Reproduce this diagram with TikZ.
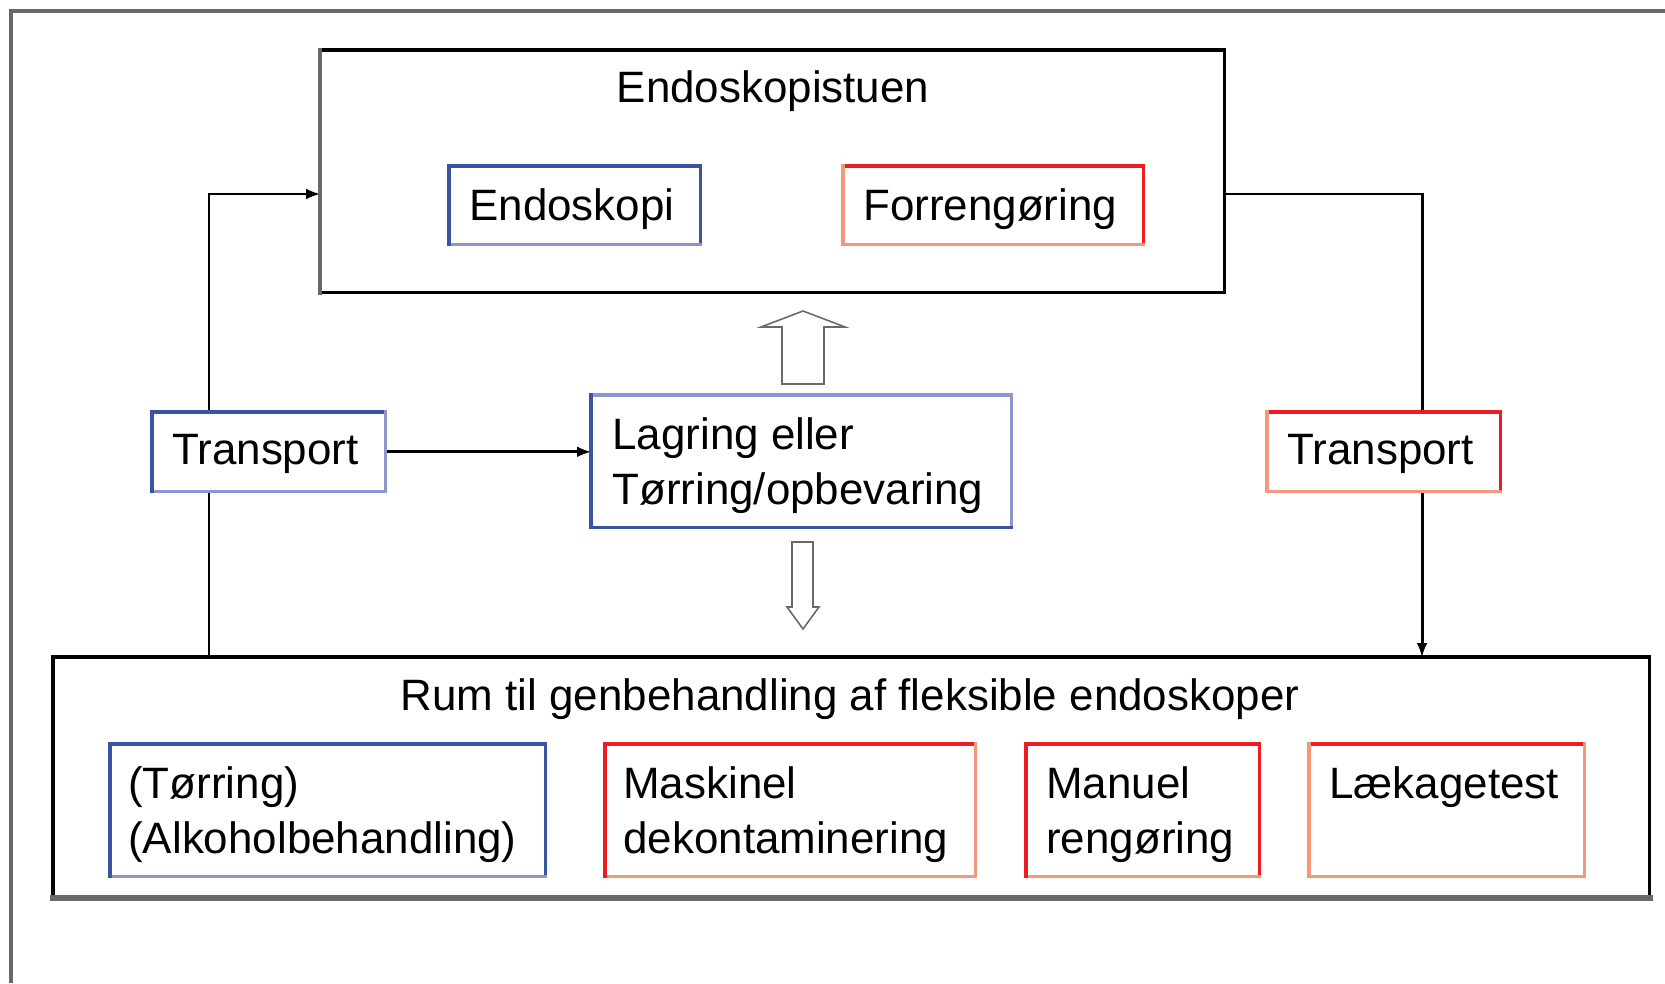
\documentclass[tikz,border=0pt]{standalone}
\usepackage{fontspec}
\setmainfont{Liberation Sans}
\usetikzlibrary{backgrounds}
\definecolor{dblue}{HTML}{3A54A4}
\definecolor{lblue}{HTML}{8E95C9}
\definecolor{dred}{HTML}{ED1C24}
\definecolor{salmon}{HTML}{F4977B}
\definecolor{edgegray}{HTML}{696969}
\def\u{0.02cm}
\tikzset{
  box/.style={rectangle,inner sep=0pt,anchor=north west,fill=white},
  boxtxt/.style={anchor=north west,align=left,inner sep=0pt},
  side/.style={line width=2pt,line cap=rect},
  blk/.style={line width=2pt,line cap=rect},
  conn/.style={line width=1.7pt},
  frame/.style={line width=1.8pt,edgegray},
  hollow/.style={line width=0.9pt,edgegray,fill=white,line join=miter}
}
% four sides of a box: name, top, right, bottom, left
\newcommand\sides[5]{%
  \draw[side,#2](#1.north west)--(#1.north east);
  \draw[side,#3](#1.north east)--(#1.south east);
  \draw[side,#4](#1.south west)--(#1.south east);
  \draw[side,#5](#1.north west)--(#1.south west);
}
\begin{document}
\begin{tikzpicture}[x=0.02cm,y=-0.02cm,font=\fontsize{25}{31.3}\selectfont]
\useasboundingbox(0,0)rectangle(1665,983);
\draw[frame](11,983)--(11,11)--(1665,11);
% rooms
\node[box,minimum width=904*\u,minimum height=242*\u](stue)at(320,50){};
\draw[blk](stue.south west)--(stue.south east)--(stue.north east)--(stue.north west);
\draw[blk,edgegray,line width=2.6pt](stue.north west)--(stue.south west);
\node[anchor=base](stueT)at(773,103){Endoskopistuen};
\node[box,minimum width=1596*\u,minimum height=240*\u](rum)at(53,657){};
\draw[blk](rum.south east)--(rum.north east)--(rum.north west)--(rum.south west);
\draw[blk,edgegray,line width=3.2pt](rum.south west)--(rum.south east);
\node[anchor=base](rumT)at(850,710){Rum til genbehandling af fleksible endoskoper};
% boxes in the endoscopy room
\node[box,minimum width=251*\u,minimum height=78*\u](endo)at(449,166){};
\sides{endo}{dblue}{dblue}{lblue}{dblue}
\node[boxtxt](endoT)at([xshift=20*\u,yshift=-22*\u]endo.north west){Endoskopi};
\node[box,minimum width=300*\u,minimum height=78*\u](forr)at(843,166){};
\sides{forr}{dred}{dred}{salmon}{salmon}
\node[boxtxt](forrT)at([xshift=20*\u,yshift=-22*\u]forr.north west){Forrengøring};
% middle row
\node[box,minimum width=233*\u,minimum height=79*\u](trL)at(152,412){};
\sides{trL}{dblue}{lblue}{lblue}{dblue}
\node[boxtxt](trLT)at([xshift=20*\u,yshift=-22*\u]trL.north west){Transport};
\node[box,minimum width=420*\u,minimum height=132*\u](lag)at(591,395){};
\sides{lag}{lblue}{lblue}{dblue}{dblue}
\node[boxtxt](lagT)at([xshift=21*\u,yshift=-22*\u]lag.north west){Lagring eller\\Tørring/opbevaring};
\node[box,minimum width=233*\u,minimum height=79*\u](trR)at(1267,412){};
\sides{trR}{dred}{dred}{salmon}{salmon}
\node[boxtxt](trRT)at([xshift=20*\u,yshift=-22*\u]trR.north west){Transport};
% boxes in the reprocessing room
\node[box,minimum width=435*\u,minimum height=132*\u](tor)at(110,744){};
\sides{tor}{dblue}{dblue}{lblue}{dblue}
\node[boxtxt](torT)at([xshift=18*\u,yshift=-22*\u]tor.north west){(Tørring)\\(Alkoholbehandling)};
\node[box,minimum width=370*\u,minimum height=132*\u](mask)at(605,744){};
\sides{mask}{dred}{salmon}{salmon}{dred}
\node[boxtxt](maskT)at([xshift=18*\u,yshift=-22*\u]mask.north west){Maskinel\\dekontaminering};
\node[box,minimum width=233*\u,minimum height=132*\u](man)at(1026,744){};
\sides{man}{dred}{dred}{salmon}{dred}
\node[boxtxt](manT)at([xshift=20*\u,yshift=-22*\u]man.north west){Manuel\\rengøring};
\node[box,minimum width=275*\u,minimum height=132*\u](laek)at(1309,744){};
\sides{laek}{dred}{salmon}{salmon}{salmon}
\node[boxtxt](laekT)at([xshift=20*\u,yshift=-22*\u]laek.north west){Lækagetest};
% connectors
\begin{scope}[on background layer]
\coordinate(lx)at(209,194);
\coordinate(rx)at(1422,194);
\draw[conn,-latex](rum.north-|lx)--(lx)--(stue.west|-lx);
\draw[conn,-latex](stue.east|-rx)--(rx)--(rum.north-|rx);
\draw[conn,-latex](trL.east)--(lag.west|-trL.east);
\end{scope}
% hollow arrows
\draw[hollow](803,311)--(845,327)--(824,327)--(824,384)--(782,384)--(782,327)--(761,327)--cycle;
\draw[hollow](803,629)--(819,607)--(813,607)--(813,542)--(792,542)--(792,607)--(787,607)--cycle;
\end{tikzpicture}
\end{document}
